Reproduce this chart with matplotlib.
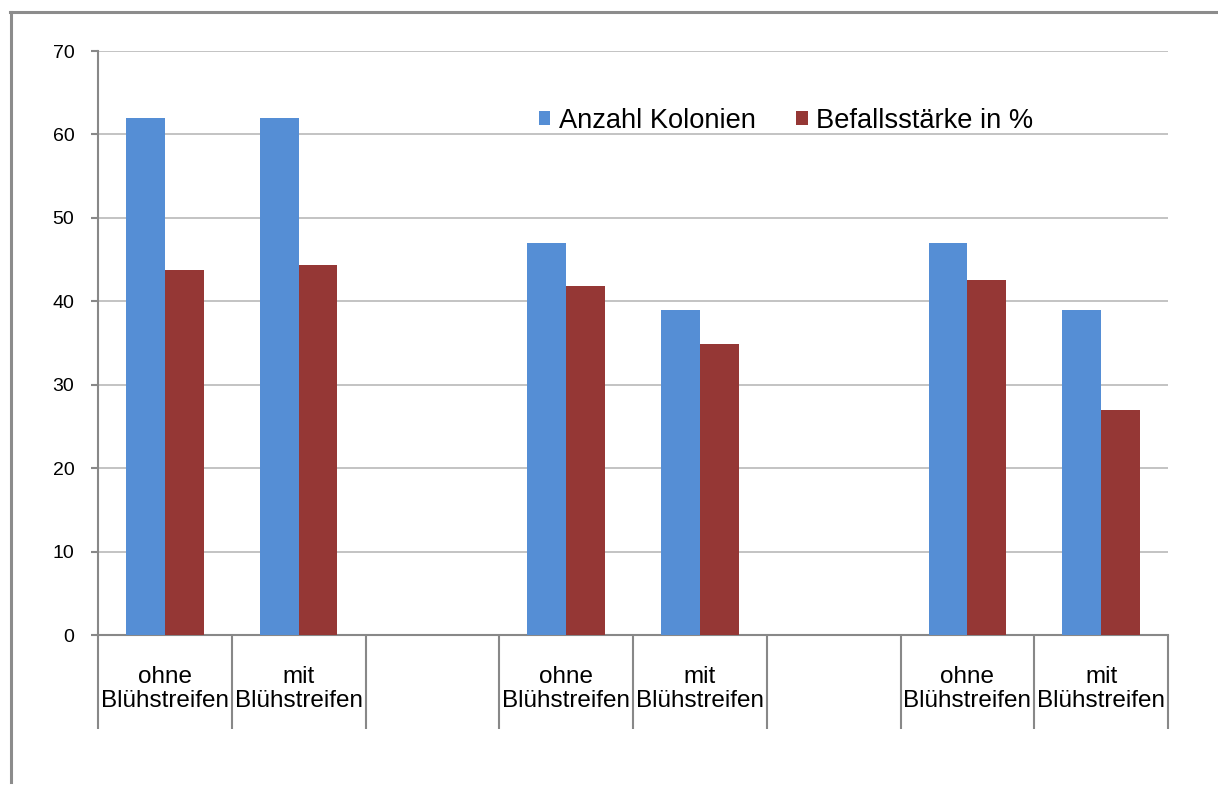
import numpy as np
import matplotlib
matplotlib.use("Agg")
import matplotlib.pyplot as plt
from matplotlib.patches import Patch
from matplotlib.lines import Line2D

plt.rcParams['font.family'] = ['Liberation Sans', 'DejaVu Sans']

categories = ["ohne\nBlühstreifen", "mit\nBlühstreifen", "",
              "ohne\nBlühstreifen", "mit\nBlühstreifen", "",
              "ohne\nBlühstreifen", "mit\nBlühstreifen"]
kolonien = [62, 62, np.nan, 47, 39, np.nan, 47, 39]
befall = [43.8, 44.4, np.nan, 41.8, 34.9, np.nan, 42.5, 27.0]
series_names = ["Anzahl Kolonien", "Befallsstärke in %"]
yticks = [0, 10, 20, 30, 40, 50, 60, 70]

blue = "#558ed5"
red = "#953735"
axis_grey = "#888888"
grid_grey = "#bebebe"

W, H = 1218, 785
fig = plt.figure(figsize=(W / 100, H / 100), dpi=100)

# outer chart-area border (top and left edges)
fig.add_artist(Line2D([10 / W, 1.0], [1 - 11.5 / H, 1 - 11.5 / H],
                      transform=fig.transFigure, color="#8c8c8c", lw=2.2))
fig.add_artist(Line2D([11 / W, 11 / W], [1 - 11.5 / H, 1 - 782 / H],
                      transform=fig.transFigure, color="#8c8c8c", lw=2.2))

ax = fig.add_axes([98 / W, (H - 635) / H, (1168 - 98) / W, (635 - 51) / H])

x = np.arange(len(categories))
bw = 0.29
ax.bar(x - bw / 2, kolonien, width=bw, color=blue, zorder=3)
ax.bar(x + bw / 2, befall, width=bw, color=red, zorder=3)

ax.set_xlim(-0.5, len(categories) - 0.5)
ax.set_ylim(0, 70)
ax.set_yticks(yticks)
ax.set_yticklabels([str(v) for v in yticks])
ax.yaxis.grid(True, color=grid_grey, lw=1.3, zorder=0)
ax.set_axisbelow(True)

for s in ("top", "right"):
    ax.spines[s].set_visible(False)
for s in ("left", "bottom"):
    ax.spines[s].set_color(axis_grey)
    ax.spines[s].set_linewidth(1.5)

ax.tick_params(axis="y", length=5, width=1.5, color=axis_grey,
               labelsize=14, pad=12)

ax.set_xticks(x)
ax.set_xticklabels(categories, fontsize=17.5, linespacing=1.15)
ax.tick_params(axis="x", which="major", length=0, pad=22)
ax.set_xticks(np.arange(len(categories) + 1) - 0.5, minor=True)
ax.tick_params(axis="x", which="minor", length=68, width=1.5,
               color=axis_grey, direction="out")

handles = [Patch(facecolor=blue, edgecolor="none"),
           Patch(facecolor=red, edgecolor="none")]
fig.legend(handles, series_names, loc="center left",
           bbox_to_anchor=(539 / W, 1 - 121 / H), ncol=2, frameon=False,
           fontsize=19.6, handlelength=0.42, handleheight=0.42,
           handletextpad=0.3, columnspacing=1.5, borderpad=0,
           borderaxespad=0)

fig.savefig("out.png", dpi=100)
